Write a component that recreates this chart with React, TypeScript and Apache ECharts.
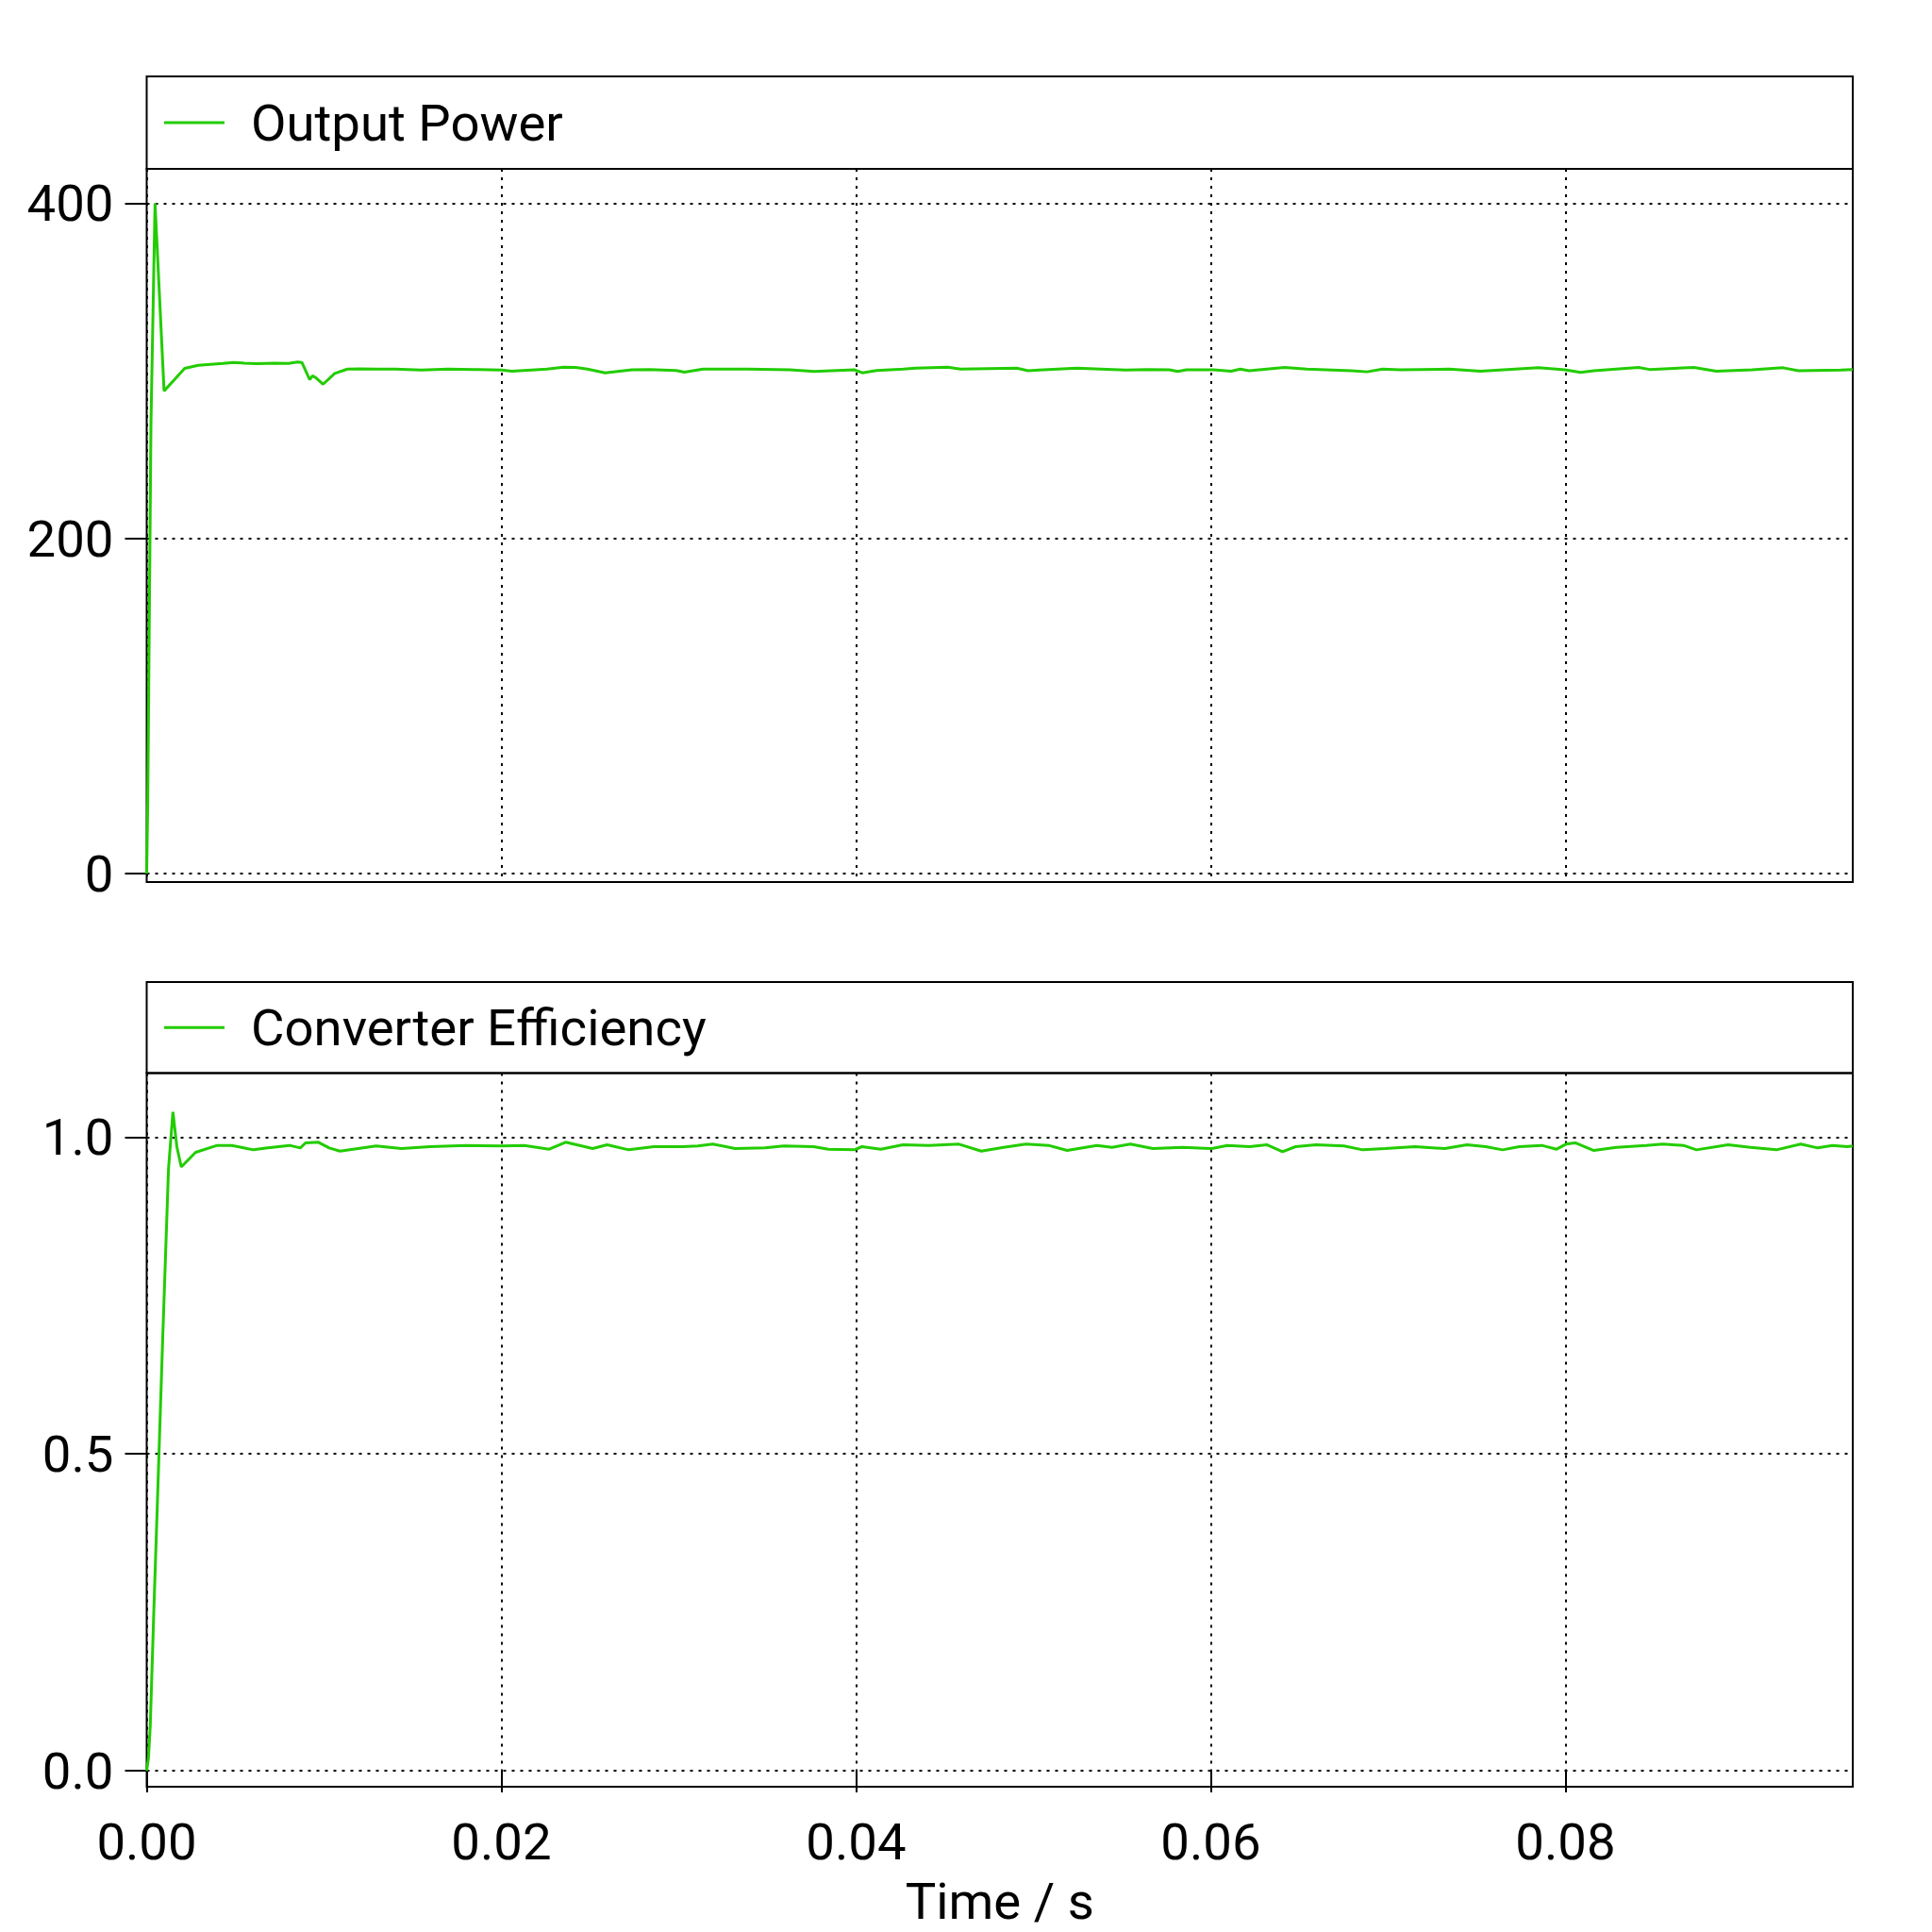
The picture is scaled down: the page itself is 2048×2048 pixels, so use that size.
import React, { useEffect, useRef } from "react";
import * as echarts from "echarts";

// ---- Data ----
const powerTime = [
  0, 0.00006, 0.00024, 0.00047, 0.00098, 0.0015, 0.00214, 0.0029, 0.0043, 0.0049,
  0.0055, 0.0062, 0.0072, 0.008, 0.0085, 0.00875, 0.00919, 0.00935, 0.00955, 0.00995,
  0.0106, 0.01132, 0.012, 0.013, 0.014, 0.0155, 0.017, 0.0185, 0.02, 0.0206,
  0.02257, 0.0235, 0.0242, 0.02485, 0.02585, 0.02736, 0.02836, 0.02986, 0.03032, 0.03137,
  0.03388, 0.03626, 0.03764, 0.0399, 0.04035, 0.04116, 0.04266, 0.04337, 0.04517, 0.0459,
  0.04906, 0.0497, 0.05031, 0.05245, 0.05345, 0.05521, 0.05646, 0.05767, 0.05814, 0.05863,
  0.06015, 0.06115, 0.06166, 0.06216, 0.06416, 0.06542, 0.06793, 0.06881, 0.06969, 0.07069,
  0.07345, 0.07521, 0.07847, 0.07997, 0.08085, 0.0816, 0.08412, 0.08474, 0.08724, 0.08851,
  0.09052, 0.09227, 0.09314, 0.09553, 0.0962,
];
const powerValues = [
  0, 43, 268, 400, 288, 294, 301.4, 303.3, 304.4, 305,
  304.6, 304.2, 304.5, 304.4, 305.2, 305, 294.8, 297, 295.8, 292,
  298.4, 301, 301.2, 301, 301, 300.4, 301, 300.8, 300.4, 299.8,
  301, 302.2, 302, 301, 298.8, 300.6, 300.8, 300.2, 299.2, 301,
  301, 300.6, 299.6, 300.6, 298.8, 300.2, 301, 301.6, 302.2, 301,
  301.6, 300, 300.4, 301.6, 301.2, 300.4, 300.8, 300.6, 299.6, 300.6,
  300.6, 299.8, 301, 300, 302, 301, 300, 299.4, 301, 300.6,
  301, 299.8, 301.8, 300.6, 299, 300, 302, 300.8, 302, 299.8,
  300.6, 301.8, 300, 300.4, 300.8,
];

const effTime = [
  0, 0.0001, 0.0002, 0.0004, 0.0006, 0.0009, 0.00123, 0.00148, 0.0017, 0.00195,
  0.00276, 0.00398, 0.0048, 0.00601, 0.00683, 0.00806, 0.00866, 0.00896, 0.00968, 0.01029,
  0.0109, 0.01192, 0.01294, 0.01436, 0.01598, 0.01802, 0.02002, 0.02128, 0.0227, 0.02362,
  0.02515, 0.02596, 0.02718, 0.0286, 0.03023, 0.03108, 0.03192, 0.03318, 0.03487, 0.03592,
  0.0376, 0.03844, 0.03991, 0.04033, 0.04139, 0.04265, 0.04411, 0.0458, 0.04706, 0.04832,
  0.04959, 0.05085, 0.0519, 0.05358, 0.05443, 0.05547, 0.05673, 0.05841, 0.06006, 0.06094,
  0.0622, 0.06315, 0.06405, 0.06478, 0.06594, 0.06751, 0.06857, 0.06983, 0.07151, 0.07319,
  0.07445, 0.07551, 0.07645, 0.0774, 0.07866, 0.0795, 0.08003, 0.08055, 0.0816, 0.08287,
  0.08455, 0.0855, 0.08665, 0.08739, 0.08917, 0.09043, 0.0919, 0.09327, 0.09422, 0.09506,
  0.0959, 0.0962,
];
const effValues = [
  0, 0.02, 0.07, 0.25, 0.42, 0.68, 0.95, 1.04, 0.985, 0.953,
  0.976, 0.987, 0.987, 0.98, 0.983, 0.987, 0.983, 0.991, 0.992, 0.983,
  0.978, 0.982, 0.986, 0.982, 0.985, 0.987, 0.986, 0.987, 0.981, 0.992,
  0.982, 0.988, 0.98, 0.985, 0.985, 0.986, 0.989, 0.982, 0.983, 0.986,
  0.985, 0.981, 0.98, 0.985, 0.981, 0.988, 0.987, 0.989, 0.978, 0.984,
  0.989, 0.987, 0.979, 0.987, 0.984, 0.989, 0.982, 0.984, 0.982, 0.987,
  0.985, 0.988, 0.977, 0.985, 0.988, 0.986, 0.98, 0.982, 0.985, 0.982,
  0.988, 0.985, 0.98, 0.985, 0.987, 0.981, 0.989, 0.991, 0.979, 0.984,
  0.987, 0.989, 0.987, 0.98, 0.988, 0.984, 0.98, 0.989, 0.983, 0.987,
  0.985, 0.986,
];

const xTicks = [0, 0.02, 0.04, 0.06, 0.08];
const powerTicks = [0, 200, 400];
const effTicks = [0, 0.5, 1.0];
const seriesNames = ["Output Power", "Converter Efficiency"];
const xAxisTitle = "Time / s";

// ---- Layout ----
const FONT = "Roboto";
const FS = 54.5;
const GREEN = "#22cc00";
const LW = 3;
const L = 155.5;
const R = 1964;
const W = R - L;
const P1 = { top: 81, sep: 179, bottom: 935 };
const P2 = { top: 1041, sep: 1137.6, bottom: 1894 };
const X_MAX = 0.0962;

const gridLine = { color: "#000", width: 2, type: [3, 6] as any };

export default function App() {
  const ref = useRef<HTMLDivElement>(null);

  useEffect(() => {
    if (!ref.current) return;
    const chart = echarts.init(ref.current, undefined, { renderer: "svg" });

    const powerData = powerTime.map((t, i) => [t, powerValues[i]]);
    const effData = effTime.map((t, i) => [t, effValues[i]]);

    const legendItem = (panel: { top: number; sep: number }, name: string) => {
      const cy = (panel.top + panel.sep) / 2;
      return [
        {
          type: "rect",
          shape: { x: L, y: panel.top, width: W, height: panel.sep - panel.top },
          style: { fill: "none", stroke: "#000", lineWidth: 2 },
          z: 10,
        },
        {
          type: "line",
          shape: { x1: 174, y1: cy, x2: 238, y2: cy },
          style: { stroke: GREEN, lineWidth: LW },
          z: 10,
        },
        {
          type: "text",
          x: 266,
          y: cy,
          style: {
            text: name,
            font: `${FS}px ${FONT}`,
            fill: "#000",
            verticalAlign: "middle",
            align: "left",
          },
          z: 10,
        },
      ];
    };

    const yAxisCommon = (ticks: number[], digits: number) => ({
      type: "value",
      axisLine: { show: false },
      axisTick: {
        show: true,
        inside: false,
        length: 23,
        lineStyle: { color: "#000", width: 2 },
        customValues: ticks,
      },
      axisLabel: {
        show: true,
        customValues: ticks,
        margin: 35,
        color: "#000",
        fontFamily: FONT,
        fontSize: FS,
        formatter: (v: number) => v.toFixed(digits),
      },
      splitLine: { show: true, lineStyle: gridLine },
    });

    chart.setOption({
      animation: false,
      backgroundColor: "#fff",
      grid: [
        {
          left: L,
          top: P1.sep,
          width: W,
          height: P1.bottom - P1.sep,
          show: true,
          borderColor: "#000",
          borderWidth: 2,
          backgroundColor: "transparent",
        },
        {
          left: L,
          top: P2.sep,
          width: W,
          height: P2.bottom - P2.sep,
          show: true,
          borderColor: "#000",
          borderWidth: 2,
          backgroundColor: "transparent",
        },
      ],
      xAxis: [
        {
          type: "value",
          gridIndex: 0,
          min: 0,
          max: X_MAX,
          axisLine: { show: false },
          axisTick: { show: false, customValues: xTicks },
          axisLabel: { show: false, customValues: xTicks },
          splitLine: { show: true, lineStyle: gridLine },
        },
        {
          type: "value",
          gridIndex: 1,
          min: 0,
          max: X_MAX,
          axisLine: { show: false },
          axisTick: {
            show: true,
            inside: false,
            length: 23,
            lineStyle: { color: "#000", width: 2 },
            customValues: xTicks,
          },
          axisLabel: {
            show: true,
            customValues: xTicks,
            margin: 30,
            color: "#000",
            fontFamily: FONT,
            fontSize: FS,
            formatter: (v: number) => v.toFixed(2),
          },
          splitLine: { show: true, lineStyle: gridLine },
          name: xAxisTitle,
          nameLocation: "middle",
          nameGap: 93,
          nameTextStyle: { color: "#000", fontFamily: FONT, fontSize: FS },
        },
      ],
      yAxis: [
        { ...yAxisCommon(powerTicks, 0), gridIndex: 0, min: -5.07, max: 420.5 },
        { ...yAxisCommon(effTicks, 1), gridIndex: 1, min: -0.0253, max: 1.101 },
      ],
      series: [
        {
          name: seriesNames[0],
          type: "line",
          xAxisIndex: 0,
          yAxisIndex: 0,
          data: powerData,
          showSymbol: false,
          symbol: "none",
          lineStyle: { color: GREEN, width: LW },
          itemStyle: { color: GREEN },
        },
        {
          name: seriesNames[1],
          type: "line",
          xAxisIndex: 1,
          yAxisIndex: 1,
          data: effData,
          showSymbol: false,
          symbol: "none",
          lineStyle: { color: GREEN, width: LW },
          itemStyle: { color: GREEN },
        },
      ],
      graphic: [...legendItem(P1, seriesNames[0]), ...legendItem(P2, seriesNames[1])],
    });

    return () => chart.dispose();
  }, []);

  return (
    <div
      ref={ref}
      style={{ position: "absolute", left: 0, top: 0, width: 2048, height: 2048 }}
    />
  );
}
